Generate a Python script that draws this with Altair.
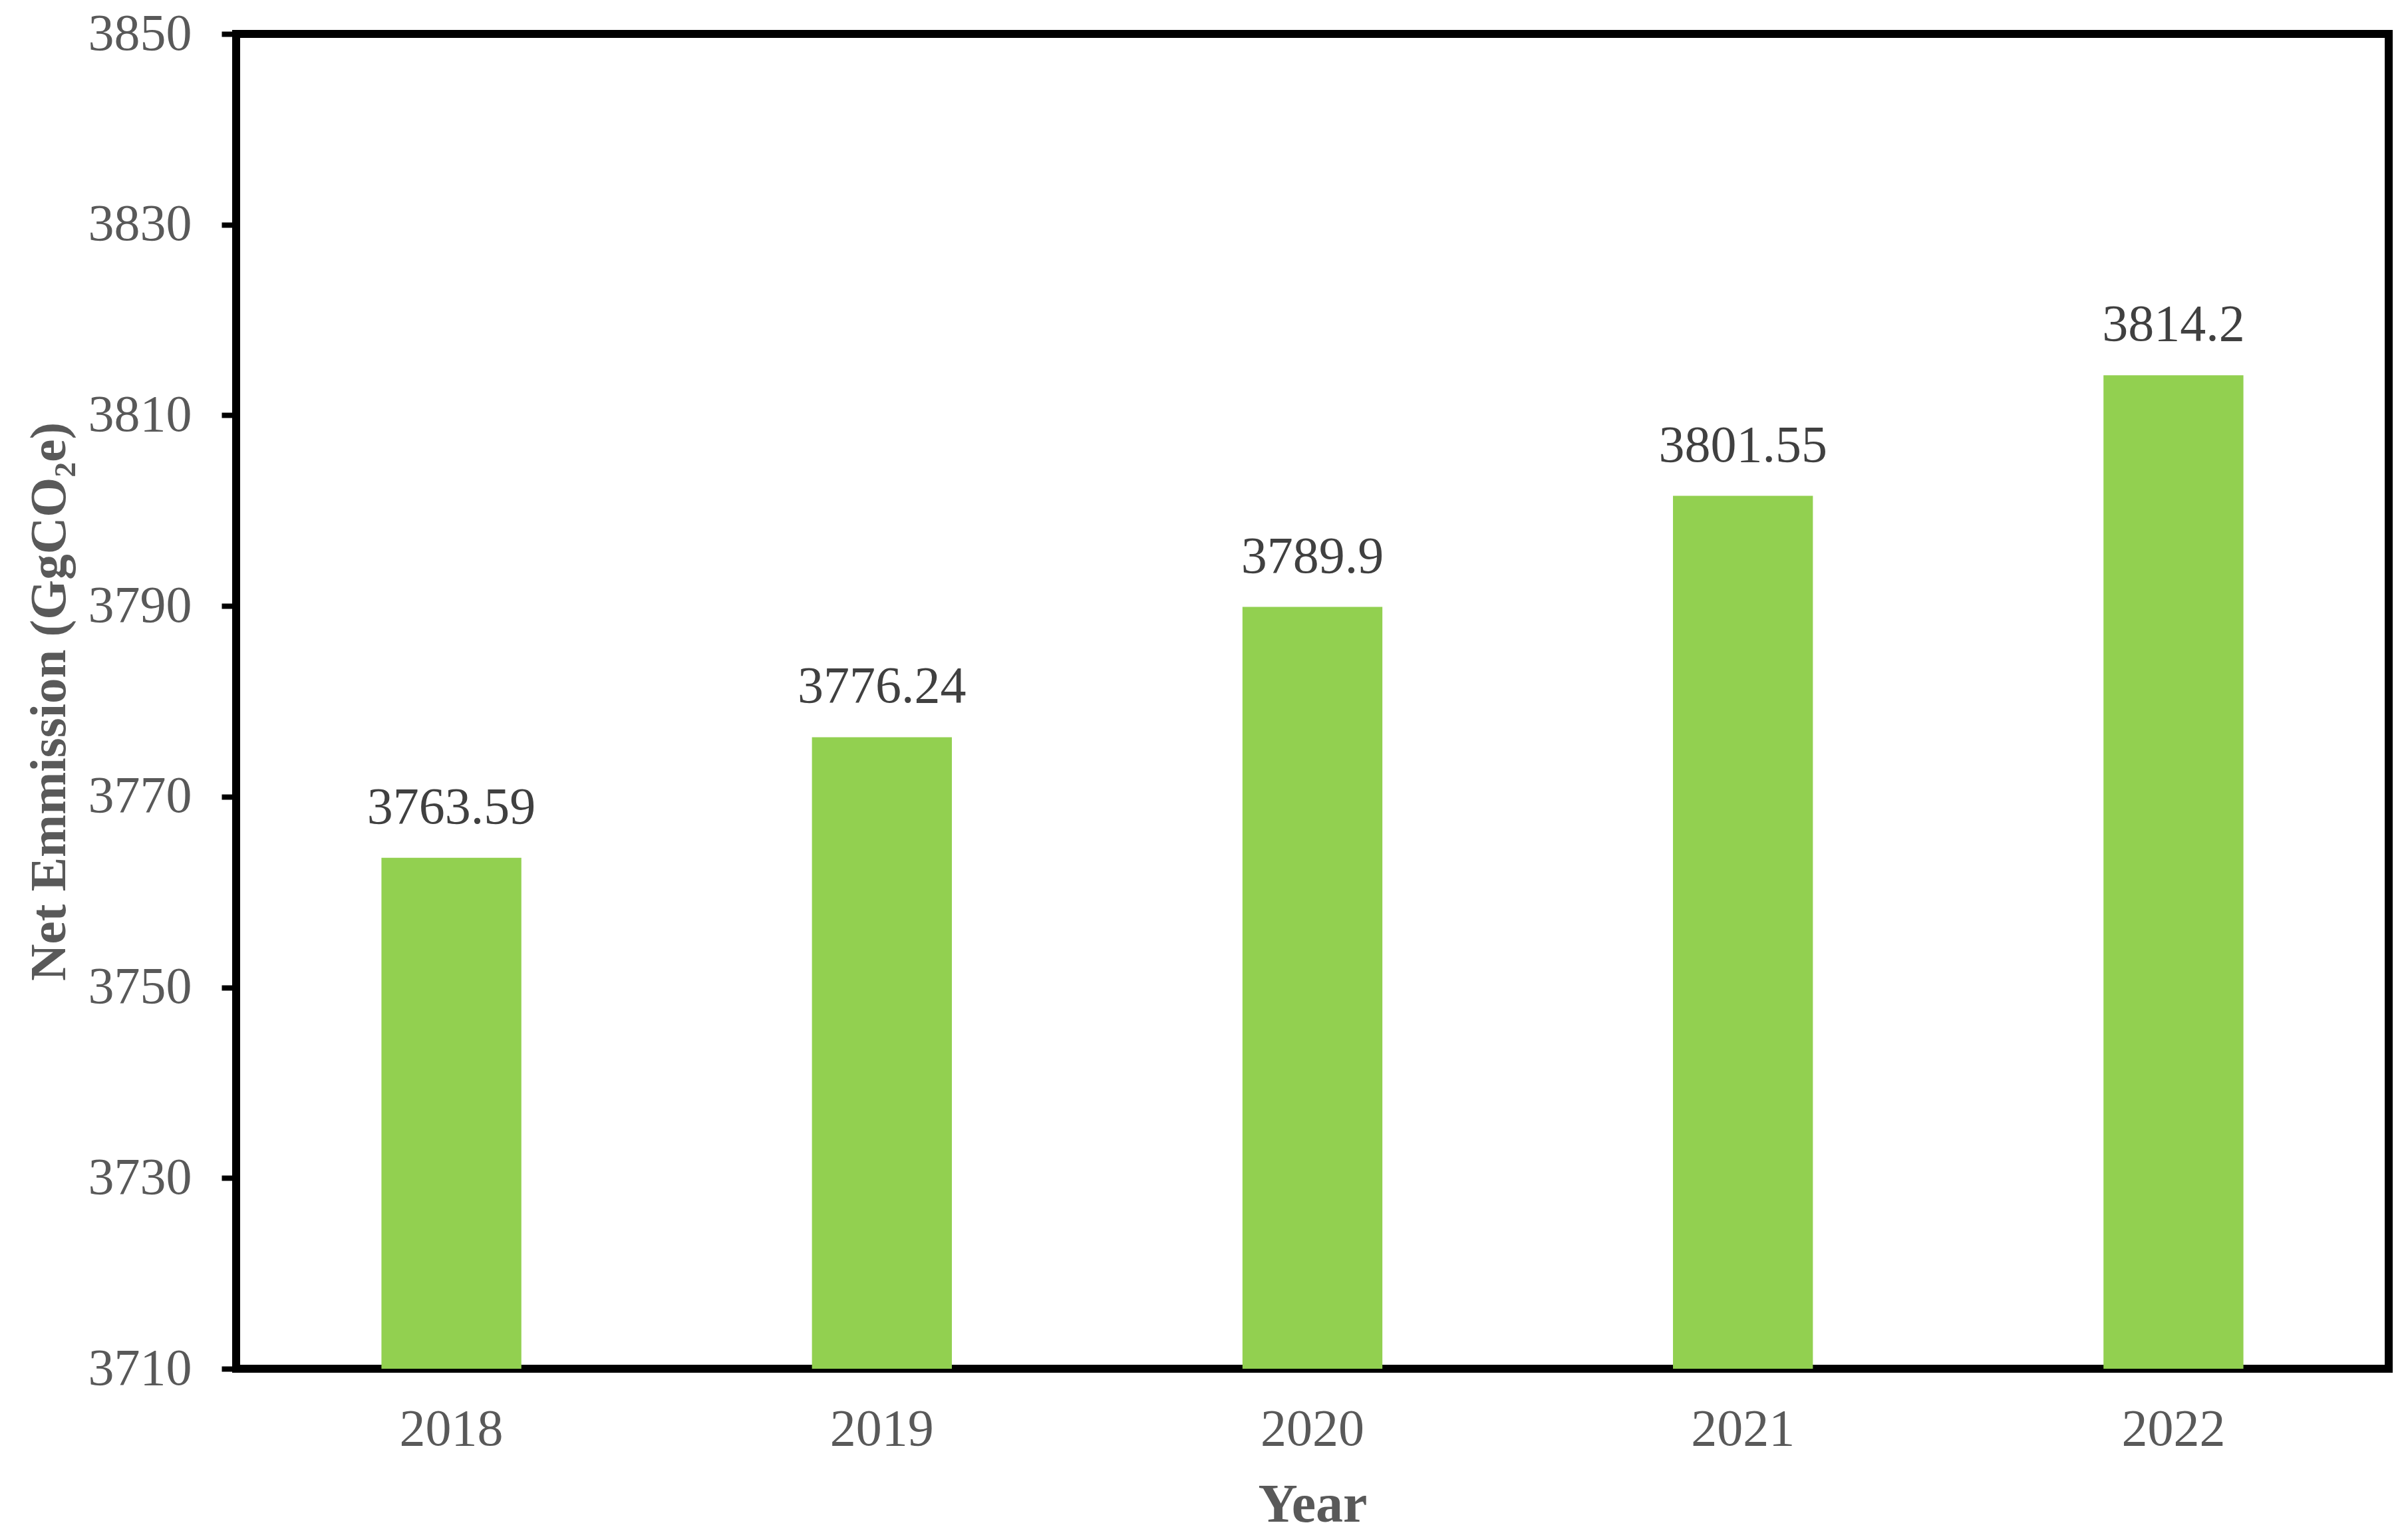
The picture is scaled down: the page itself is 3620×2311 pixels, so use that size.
import altair as alt
import pandas as pd

years = ["2018", "2019", "2020", "2021", "2022"]
values = [3763.59, 3776.24, 3789.9, 3801.55, 3814.2]
labels = ["3763.59", "3776.24", "3789.9", "3801.55", "3814.2"]
y_ticks = [3710, 3730, 3750, 3770, 3790, 3810, 3830, 3850]

df = pd.DataFrame({"Year": years, "Value": values, "Label": labels})

FONT = "Liberation Serif"
W, H = 3236, 2007

x_enc = alt.X(
    "Year:N",
    sort=years,
    scale=alt.Scale(paddingInner=0.675, paddingOuter=0.3375),
    axis=alt.Axis(
        title="Year",
        titleFont=FONT,
        titleFontSize=82,
        titleFontWeight="bold",
        titleColor="#595959",
        titleX=W / 2,
        titleY=229,
        titleAlign="center",
        titleBaseline="alphabetic",
        labelFont=FONT,
        labelFontSize=78,
        labelColor="#595959",
        labelAngle=0,
        labelBaseline="alphabetic",
        labelPadding=114,
        ticks=False,
        tickSize=0,
        domain=False,
    ),
)

y_enc = alt.Y(
    "Value:Q",
    scale=alt.Scale(domain=[3710, 3850], zero=False, nice=False),
    axis=alt.Axis(
        title="Net Emmission (GgCO₂e)",
        titleFont=FONT,
        titleFontSize=77,
        titleFontWeight="bold",
        titleColor="#595959",
        titleAngle=270,
        titleX=-258,
        titleY=H / 2,
        titleAlign="center",
        titleBaseline="alphabetic",
        values=y_ticks,
        format="d",
        labelFont=FONT,
        labelFontSize=78,
        labelColor="#595959",
        labelPadding=45,
        tickSize=22,
        tickWidth=8,
        tickColor="black",
        grid=False,
        domain=False,
    ),
)

bars = alt.Chart(df).mark_bar(color="#92D050", clip=True).encode(
    x=x_enc, y=y_enc, y2=alt.datum(3710)
)

text = alt.Chart(df).mark_text(
    font=FONT,
    fontSize=78,
    color="#404040",
    baseline="alphabetic",
    align="center",
    dy=-52,
).encode(
    x=alt.X("Year:N", sort=years),
    y=alt.Y("Value:Q"),
    text="Label:N",
)

chart = (
    alt.layer(bars, text)
    .properties(
        width=W,
        height=H,
        autosize=alt.AutoSizeParams(type="none"),
        padding={"left": 347, "top": 43, "right": 20, "bottom": 245},
    )
    .configure(background="white")
    .configure_view(stroke="black", strokeWidth=12)
)

chart.save("out.html", embed_options={"renderer": "svg", "actions": False})
